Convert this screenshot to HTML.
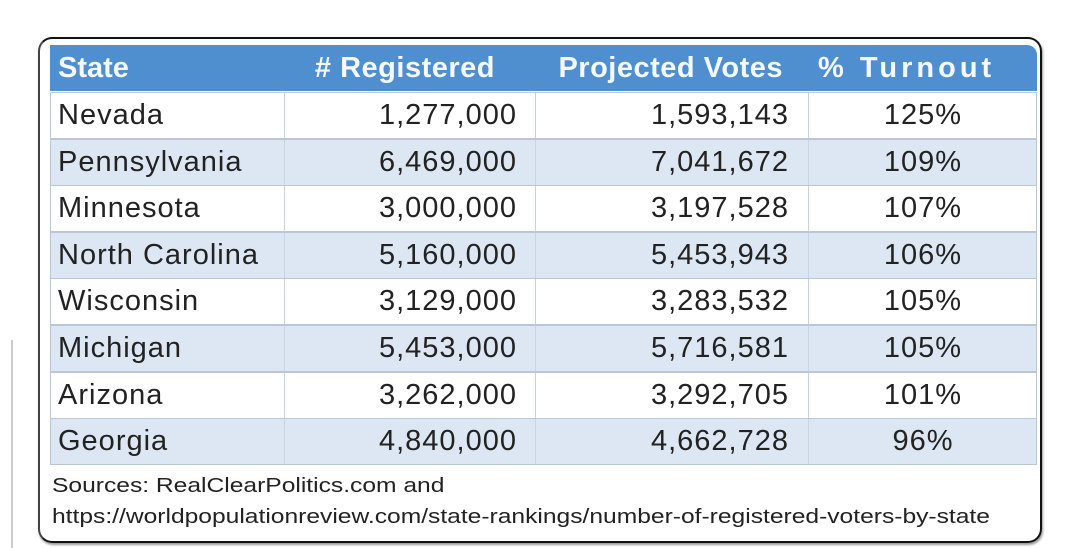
<!DOCTYPE html>
<html><head><meta charset="utf-8"><style>
body{margin:0;width:1071px;height:548px;background:#fff;position:relative;overflow:hidden;font-family:"Liberation Sans",sans-serif}
.frame{position:absolute;left:38px;top:37px;width:1000px;height:502px;border:2px solid #111;border-radius:14px;border-left-color:#444;box-shadow:1px 2px 2px #999}
.tbl{position:absolute;left:50px;top:45px;width:987px}
.hdr{position:absolute;left:0;top:0;width:987px;height:46px;background:#4f8fd0;color:#f4f8ff;font-weight:bold;font-size:29px;border-top-right-radius:10px}
.row{position:absolute;left:0;width:985px;height:45px;border:1px solid #b8c8d8;font-size:29px;color:#222}
.c{position:absolute;top:0;line-height:45px;white-space:nowrap}
.row .c{letter-spacing:1px}
.div{position:absolute;top:0;height:45px;width:1px;background:#c8d4e0}
.src{position:absolute;left:52px;font-size:20px;color:#222;white-space:nowrap;transform-origin:0 0;transform:scaleX(1.23)}
</style></head><body>
<div style="position:absolute;left:11px;top:340px;width:2px;height:208px;background:#ccc"></div>
<div class="frame"></div>
<div class="tbl">
<div class="hdr">
<span class="c" style="left:8px;line-height:46px">State</span>
<span class="c" style="right:542px;line-height:46px;letter-spacing:0.5px"># Registered</span>
<span class="c" style="right:254px;line-height:46px;letter-spacing:0.5px">Projected Votes</span>
<span class="c" style="left:768px;line-height:46px;letter-spacing:4px">% Turnout</span>
</div>
<div id="rows"></div>
</div>
<div class="src" style="top:475px">Sources: RealClearPolitics.com and</div>
<div class="src" style="top:506px">https://worldpopulationreview.com/state-rankings/number-of-registered-voters-by-state</div>
<script>
const states=["Nevada","Pennsylvania","Minnesota","North Carolina","Wisconsin","Michigan","Arizona","Georgia"];
const registered=["1,277,000","6,469,000","3,000,000","5,160,000","3,129,000","5,453,000","3,262,000","4,840,000"];
const projected=["1,593,143","7,041,672","3,197,528","5,453,943","3,283,532","5,716,581","3,292,705","4,662,728"];
const turnout=["125%","109%","107%","106%","105%","105%","101%","96%"];
const host=document.getElementById('rows');
states.forEach((s,i)=>{
const r=document.createElement('div');
r.className='row';
r.style.top=(47+i*46.6)+'px';
r.style.background=i%2?'#dce7f3':'#fff';


r.innerHTML='<div class="div" style="left:233px"></div><div class="div" style="left:484px"></div><div class="div" style="left:757px"></div>'+
'<span class="c" style="left:7px">'+s+'</span>'+
'<span class="c" style="right:519px">'+registered[i]+'</span>'+
'<span class="c" style="right:247px">'+projected[i]+'</span>'+
'<span class="c" style="left:872px;transform:translateX(-50%)">'+turnout[i]+'</span>';
host.appendChild(r);
});
</script>
</body></html>
